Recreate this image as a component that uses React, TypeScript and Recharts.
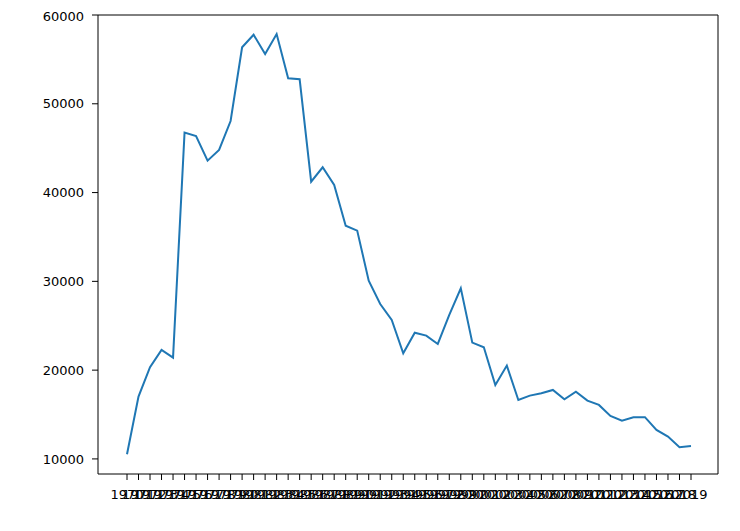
import { Line, LineChart, XAxis, YAxis } from "recharts";

const years = [
  "1970", "1971", "1972", "1973", "1974", "1975", "1976", "1977", "1978", "1979",
  "1980", "1981", "1982", "1983", "1984", "1985", "1986", "1987", "1988", "1989",
  "1990", "1991", "1992", "1993", "1994", "1995", "1996", "1997", "1998", "1999",
  "2000", "2001", "2002", "2003", "2004", "2005", "2006", "2007", "2008", "2009",
  "2010", "2011", "2012", "2013", "2014", "2015", "2016", "2017", "2018", "2019",
];

const values = [
  10530, 17020, 20330, 22280, 21410, 46750, 46370, 43590, 44800, 48060,
  56360, 57780, 55610, 57860, 52870, 52760, 41230, 42850, 40860, 36270,
  35710, 30080, 27450, 25650, 21900, 24220, 23890, 22950, 26220, 29220,
  23100, 22580, 18330, 20510, 16640, 17130, 17400, 17770, 16720, 17580,
  16570, 16080, 14840, 14310, 14700, 14700, 13270, 12510, 11320, 11460,
];

const yTicks = [10000, 20000, 30000, 40000, 50000, 60000];

const data = years.map((year, i) => ({ year, value: values[i] }));

const font = { fontSize: 13, fill: "#000", fontFamily: "DejaVu Sans" };
const Y_DOMAIN: [number, number] = [8300, 60000];

export default function App() {
  return (
    <div style={{ background: "#fff" }}>
      <LineChart width={732} height={514} data={data} margin={{ top: 6, right: 21, left: 0, bottom: 0 }}>
        <XAxis
          dataKey="year"
          interval={0}
          padding={{ left: 29, right: 27 }}
          height={48}
          tick={font}
          tickSize={6}
          tickMargin={10}
          stroke="#000"
        />
        {/* top edge of the frame */}
        <XAxis
          xAxisId="top"
          dataKey="year"
          orientation="top"
          height={1}
          tick={false}
          tickLine={false}
          stroke="#000"
        />
        <YAxis
          domain={Y_DOMAIN}
          ticks={yTicks}
          allowDataOverflow
          width={90}
          tick={font}
          tickSize={6}
          tickMargin={8}
          stroke="#000"
        />
        {/* right edge of the frame */}
        <YAxis
          yAxisId="right"
          dataKey="value"
          orientation="right"
          domain={Y_DOMAIN}
          allowDataOverflow
          width={1}
          tick={false}
          tickLine={false}
          stroke="#000"
        />
        <Line
          type="linear"
          dataKey="value"
          stroke="#1f77b4"
          strokeWidth={2}
          dot={false}
          isAnimationActive={false}
        />
      </LineChart>
    </div>
  );
}
